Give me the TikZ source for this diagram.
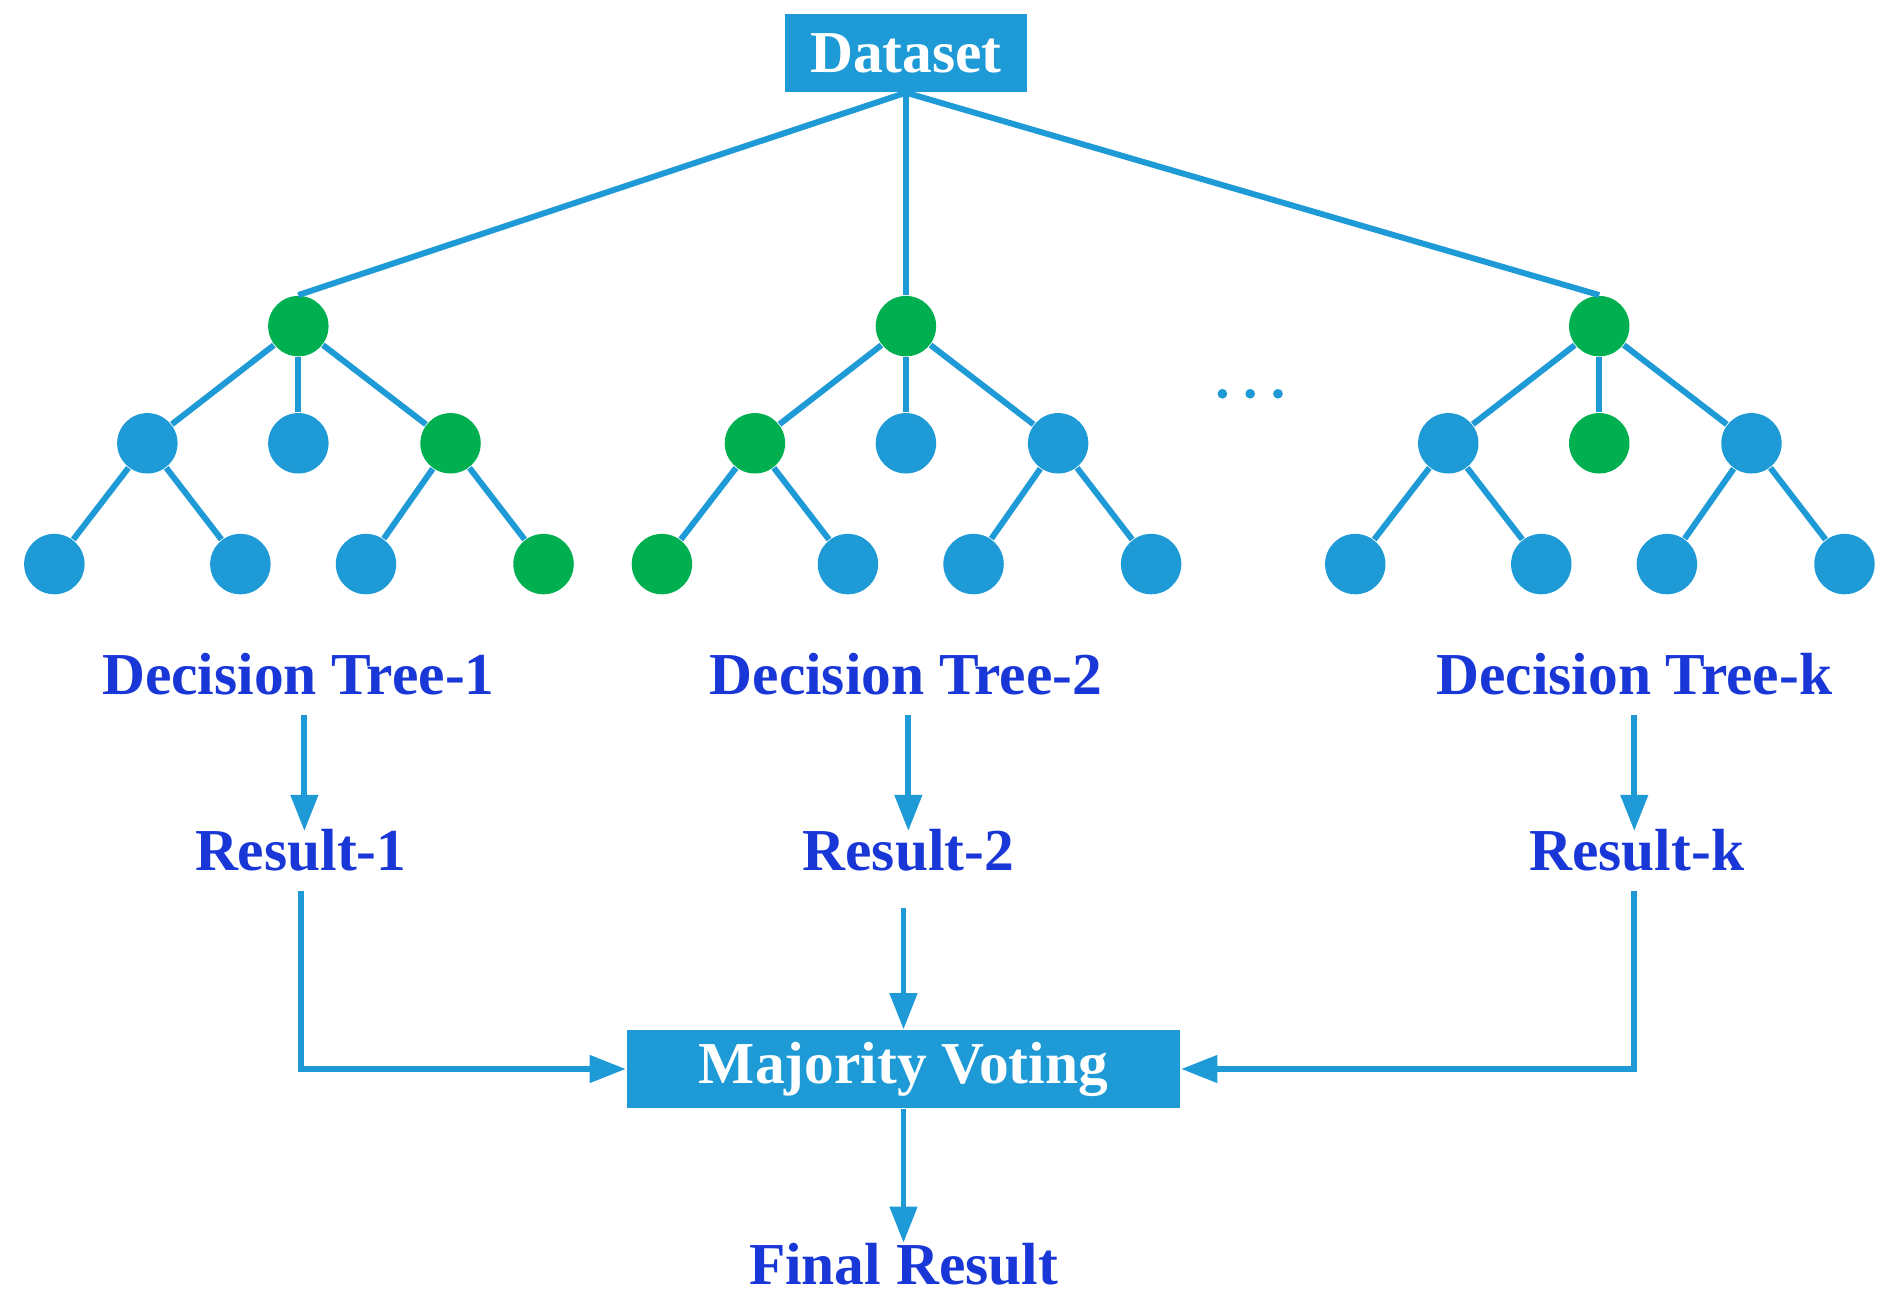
\documentclass[tikz,border=0pt]{standalone}
\usepackage{fontspec}
\setmainfont{Liberation Serif}
\usetikzlibrary{arrows.meta, positioning}
\definecolor{baseblue}{RGB}{30,155,215}
\definecolor{basegreen}{RGB}{0,176,80}
\definecolor{textblue}{RGB}{25,55,215}

\begin{document}
\begin{tikzpicture}[x=0.01cm, y=-0.01cm, font=\bfseries\fontsize{14}{17}\selectfont]
  \tikzset{
    tree_node/.style args={#1}{
      circle, fill=#1, minimum size=0.5cm, inner sep=0pt
    },
    blue_box/.style={fill=baseblue, text=white, minimum height=0.64cm, inner sep=0pt},
    label_text/.style={text=textblue, inner sep=0pt},
    link/.style={draw=baseblue, line width=1.4pt},
    connecting_arrow/.style={-{Triangle[length=0.3cm, width=0.22cm]}, draw=baseblue, line width=1.4pt}
  }
  \useasboundingbox (0,0) rectangle (1568,1082);

  % Dataset box on top
  \node[blue_box, minimum width=2cm] (dataset) at (750,44) {Dataset};

  % Draw the three trees: name/x-offset/colours of root, children and leaves
  \foreach \t/\ox/\cr/\ca/\cb/\cc/\la/\lb/\lc/\ld in {
      1/0/basegreen/baseblue/baseblue/basegreen/baseblue/baseblue/baseblue/basegreen,
      2/503/basegreen/basegreen/baseblue/baseblue/basegreen/baseblue/baseblue/baseblue,
      k/1077/basegreen/baseblue/basegreen/baseblue/baseblue/baseblue/baseblue/baseblue} {
    \node[tree_node=\cr] (T\t-r) at (247+\ox,270) {};
    \node[tree_node=\ca] (T\t-a) at (122+\ox,367) {};
    \node[tree_node=\cb] (T\t-b) at (247+\ox,367) {};
    \node[tree_node=\cc] (T\t-c) at (373+\ox,367) {};
    \node[tree_node=\la] (T\t-la) at (45+\ox,467) {};
    \node[tree_node=\lb] (T\t-lb) at (199+\ox,467) {};
    \node[tree_node=\lc] (T\t-lc) at (303+\ox,467) {};
    \node[tree_node=\ld] (T\t-ld) at (450+\ox,467) {};
    % Edges inside the tree
    \draw[link] (T\t-r) -- (T\t-a);
    \draw[link] (T\t-r) -- (T\t-b);
    \draw[link] (T\t-r) -- (T\t-c);
    \draw[link] (T\t-a) -- (T\t-la);
    \draw[link] (T\t-a) -- (T\t-lb);
    \draw[link] (T\t-c) -- (T\t-lc);
    \draw[link] (T\t-c) -- (T\t-ld);
    % Edge from the dataset
    \draw[link] (dataset.south) -- (T\t-r.north);
  }

  % Dots between tree 2 and tree k
  \foreach \d [count=\di] in {1012,1035,1058} {
    \node[tree_node=baseblue, minimum size=0.08cm] (dot-\di) at (\d,326) {};
  }

  % Labels and results
  \node[label_text] (name-1) at (247,558) {Decision Tree-1};
  \node[label_text] (name-2) at (750,558) {Decision Tree-2};
  \node[label_text] (name-k) at (1353,558) {Decision Tree-k};
  \node[label_text] (res-1) at (249,704) {Result-1};
  \node[label_text] (res-2) at (752,704) {Result-2};
  \node[label_text] (res-k) at (1355,704) {Result-k};

  \draw[connecting_arrow] (252,592) -- (252,688);
  \draw[connecting_arrow] (752,592) -- (752,688);
  \draw[connecting_arrow] (1353,592) -- (1353,688);

  % Voting box and final result
  \node[blue_box, minimum width=4.58cm] (vote) at (748,885) {Majority Voting};
  \node[label_text] (final) at (748,1047) {Final Result};

  \draw[connecting_arrow] (249,738) |- (vote.west);
  \draw[connecting_arrow] (748,752) -- (vote.north);
  \draw[connecting_arrow] (1353,738) |- (vote.east);
  \draw[connecting_arrow] (vote.south) -- (final.north);

\end{tikzpicture}
\end{document}
